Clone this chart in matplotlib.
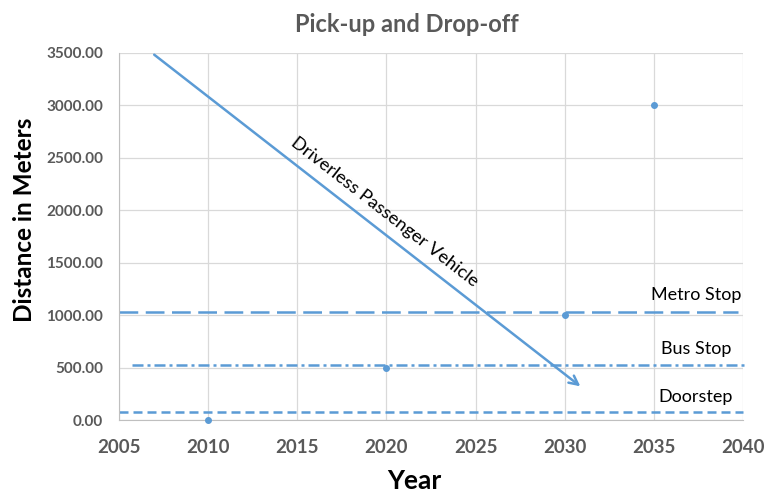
import numpy as np
import matplotlib.pyplot as plt

# ----- Datos -----
anios = [2010, 2020, 2030, 2035]
distancias = [0, 500, 1000, 3000]

niveles = ['Metro Stop', 'Bus Stop', 'Doorstep']
valores_nivel = [1030, 524, 79]
valores_etiqueta = [1192, 677, 219]
inicio_nivel = [2005, 2005.7, 2005]
fin_nivel = [2039.7, 2040.2, 2040]
estilos_nivel = [(0, (7.5, 3)), (0, (4.4, 1.6, 1.2, 1.6)), (0, (3.6, 2))]

flecha_inicio = (2006.85, 3500)
flecha_fin = (2031.0, 305)
texto_flecha = 'Driverless Passenger Vehicle'

AZUL = '#5b9bd5'
GRIS = '#595959'
plt.rcParams['font.family'] = ['Lato', 'DejaVu Sans']

fig = plt.figure(figsize=(7.79, 4.97), dpi=100)
ax = fig.add_axes([0.1528, 0.1549, 0.801, 0.7385])

ax.set_xlim(2005, 2040)
ax.set_ylim(0, 3500)
ax.set_xticks(np.arange(2005, 2041, 5))
ax.set_yticks(np.arange(0, 3501, 500))
ax.set_yticklabels([f'{v:.2f}' for v in np.arange(0, 3501, 500)])
ax.grid(True, color='#d9d9d9', linewidth=0.9)
ax.set_axisbelow(True)
for lado in ['top', 'right']:
    ax.spines[lado].set_visible(False)
for lado in ['left', 'bottom']:
    ax.spines[lado].set_color('#bfbfbf')
ax.tick_params(length=0, colors=GRIS)
ax.tick_params(axis='x', pad=14, labelsize=13.5)
ax.tick_params(axis='y', pad=11.5, labelsize=11)
for t in ax.get_xticklabels() + ax.get_yticklabels():
    t.set_fontweight('bold')

ax.scatter(anios, distancias, s=16, color=AZUL, zorder=3, clip_on=False)

for nombre, v, ve, x0, x1, ls in zip(niveles, valores_nivel, valores_etiqueta,
                                     inicio_nivel, fin_nivel, estilos_nivel):
    ax.plot([x0, x1], [v, v], color=AZUL, linewidth=1.8, linestyle=ls, clip_on=False)
    ax.text(2037.36, ve, nombre, fontsize=13, ha='center', va='center', color='black')

ax.annotate('', xy=flecha_fin, xytext=flecha_inicio,
            arrowprops=dict(arrowstyle='->', color=AZUL, lw=1.8, mutation_scale=16))

# angulo del texto segun la flecha en pixeles
p0 = ax.transData.transform(flecha_inicio)
p1 = ax.transData.transform(flecha_fin)
angulo = np.degrees(np.arctan2(p1[1] - p0[1], p1[0] - p0[0]))
ax.text(2019.9, 1983, texto_flecha, rotation=angulo, rotation_mode='anchor',
        ha='center', va='center', fontsize=13.2, color='black')

fig.text(0.522, 0.95, 'Pick-up and Drop-off', ha='center', va='center',
         fontsize=17, fontweight='bold', color=GRIS)
fig.text(414 / 779, 1 - 481 / 497, 'Year', ha='center', va='center',
         fontsize=19, fontweight='bold')
fig.text(25 / 779, 1 - 220 / 497, 'Distance in Meters', ha='center', va='center',
         rotation=90, fontsize=17.5, fontweight='bold')

plt.savefig('out.png', dpi=100)
